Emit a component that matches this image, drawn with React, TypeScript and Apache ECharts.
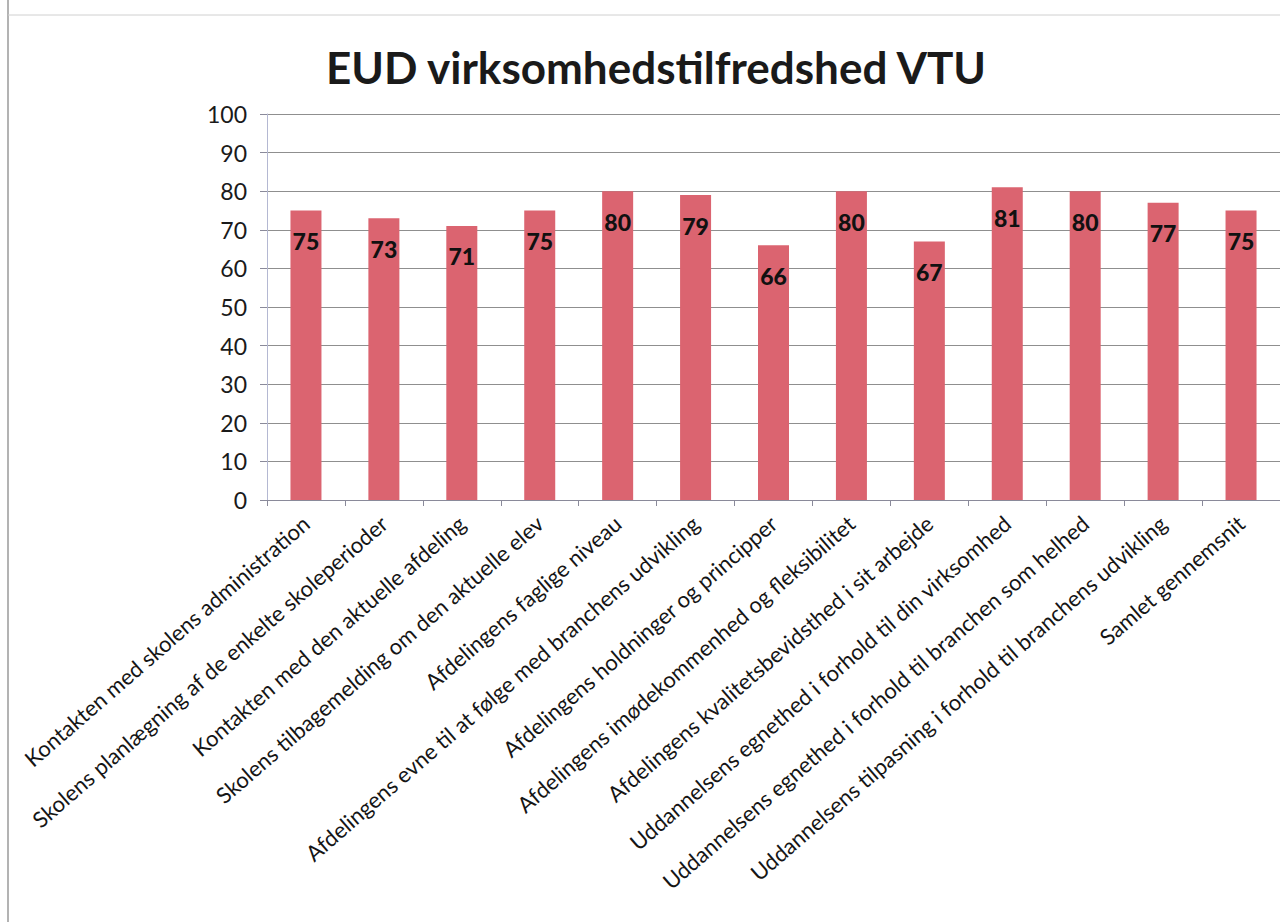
import React, { useEffect, useRef } from "react";
import * as echarts from "echarts";

const categories: string[] = [
  "Kontakten med skolens administration",
  "Skolens planlægning af de enkelte skoleperioder",
  "Kontakten med den aktuelle afdeling",
  "Skolens tilbagemelding om den aktuelle elev",
  "Afdelingens faglige niveau",
  "Afdelingens evne til at følge med branchens udvikling",
  "Afdelingens holdninger og principper",
  "Afdelingens imødekommenhed og fleksibilitet",
  "Afdelingens kvalitetsbevidsthed i sit arbejde",
  "Uddannelsens egnethed i forhold til din virksomhed",
  "Uddannelsens egnethed i forhold til branchen som helhed",
  "Uddannelsens tilpasning i forhold til branchens udvikling",
  "Samlet gennemsnit",
];

const values: number[] = [75, 73, 71, 75, 80, 79, 66, 80, 67, 81, 80, 77, 75];

const titleText = "EUD virksomhedstilfredshed VTU";

export default function App() {
  const ref = useRef<HTMLDivElement>(null);

  useEffect(() => {
    if (!ref.current) return;
    const chart = echarts.init(ref.current, null, { renderer: "svg" });
    chart.setOption({
      animation: false,
      backgroundColor: "#ffffff",
      title: {
        text: titleText,
        left: 651,
        textAlign: "center",
        top: 40,
        textStyle: {
          fontFamily: "Lato",
          fontWeight: "bold",
          fontSize: 44,
          color: "#1a1a1a",
        },
      },
      graphic: [
        {
          type: "line",
          shape: { x1: 8, y1: 0, x2: 8, y2: 922 },
          style: { stroke: "#9a9a9a", lineWidth: 1.5 },
        },
        {
          type: "line",
          shape: { x1: 8, y1: 15, x2: 1280, y2: 15 },
          style: { stroke: "#d0d0d0", lineWidth: 1 },
        },
      ],
      grid: {
        left: 267,
        right: -9,
        top: 114,
        bottom: 422,
        containLabel: false,
      },
      xAxis: {
        type: "category",
        data: categories,
        boundaryGap: true,
        axisLine: { show: true, lineStyle: { color: "#8a8a9a", width: 1 } },
        axisTick: {
          show: true,
          alignWithLabel: false,
          length: 6,
          lineStyle: { color: "#8a8a9a" },
        },
        axisLabel: {
          interval: 0,
          rotate: 41,
          margin: 20,
          fontFamily: "Lato",
          fontSize: 22,
          color: "#151515",
        },
      },
      yAxis: {
        type: "value",
        min: 0,
        max: 100,
        interval: 10,
        axisLine: { show: true, lineStyle: { color: "#b4b8d2", width: 1 } },
        axisTick: { show: true, length: 7, lineStyle: { color: "#8a8a9a" } },
        axisLabel: {
          margin: 20,
          fontFamily: "Lato",
          fontSize: 23,
          color: "#1a1a1a",
        },
        splitLine: { show: true, lineStyle: { color: "#8f8f8f", width: 1 } },
      },
      series: [
        {
          type: "bar",
          data: values,
          barWidth: 31,
          itemStyle: { color: "#db6470" },
          label: {
            show: true,
            position: "insideTop",
            distance: 19,
            fontFamily: "Lato",
            fontWeight: 900,
            fontSize: 23,
            color: "#111111",
          },
        },
      ],
    });
    return () => chart.dispose();
  }, []);

  return (
    <div
      ref={ref}
      style={{ position: "fixed", left: 0, top: 0, width: 1280, height: 922 }}
    />
  );
}
